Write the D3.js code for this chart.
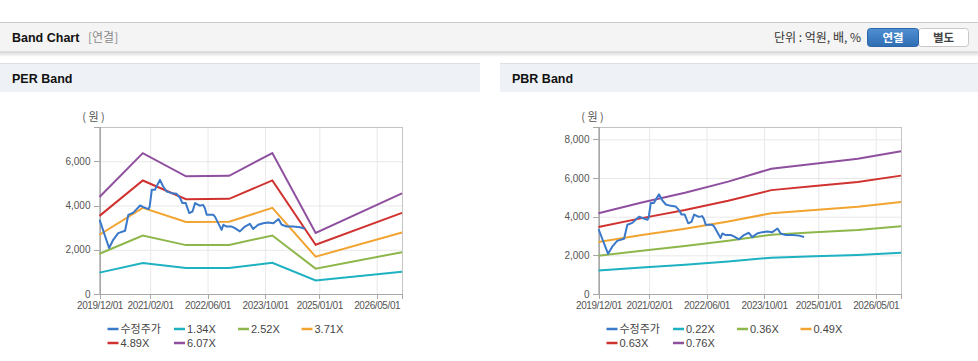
<!DOCTYPE html>
<html>
<head>
<meta charset="utf-8">
<script src="https://cdn.jsdelivr.net/npm/d3@7"></script>
<style>
  body { margin: 0; background: #fff; }
  svg { display: block; font-family: "Liberation Sans", Arial, sans-serif; }
  .kr { font-family: "Noto Sans CJK KR", sans-serif; }
  .axis path, .axis line { shape-rendering: crispEdges; }
</style>
</head>
<body>
<div id="page"></div>
<script>
// --- data ---
var xTickDates = ["2019-12-01", "2021-02-01", "2022-06-01", "2023-10-01", "2025-01-01", "2026-05-01"];

var priceDates = ["2019-12-02", "2020-02-20", "2020-03-26", "2020-05-07", "2020-07-04", "2020-08-01",
  "2020-09-12", "2020-10-10", "2020-11-08", "2020-12-06", "2021-01-18", "2021-01-28", "2021-02-15",
  "2021-03-13", "2021-04-25", "2021-05-22", "2021-06-22", "2021-08-03", "2021-09-13", "2021-10-13",
  "2021-11-01", "2021-11-29", "2021-12-28", "2022-01-25", "2022-02-16", "2022-03-28", "2022-04-25",
  "2022-05-10", "2022-05-25", "2022-07-19", "2022-08-03", "2022-09-28", "2022-10-13", "2022-11-10",
  "2022-12-22", "2023-01-19", "2023-03-02", "2023-04-13", "2023-05-25", "2023-06-22", "2023-08-03",
  "2023-09-15", "2023-10-28", "2023-12-10", "2024-01-22", "2024-02-18", "2024-04-01", "2024-05-25",
  "2024-07-22", "2024-09-03"];
var priceValues = [3350, 2080, 2450, 2750, 2860, 3580,
  3680, 3840, 4000, 3930, 3840, 3950, 4710,
  4710, 5160, 4860, 4630, 4560, 4530, 4330,
  4110, 4110, 3660, 3730, 4110, 3990, 4030,
  3880, 3580, 3580, 3500, 2900, 3130, 3050,
  3050, 2980, 2830, 3050, 3170, 2940, 3130,
  3200, 3230, 3200, 3390, 3130, 3050, 3050,
  3020, 2950];

var perDates = ["2019-12-01", "2020-12-01", "2021-12-01", "2022-12-01", "2023-12-01", "2024-12-01", "2026-12-01"];
var perNames = ["1.34X", "2.52X", "3.71X", "4.89X", "6.07X"];
var per134 = [967, 1406, 1175, 1179, 1407, 610, 1005];
var per252 = [1819, 2643, 2210, 2218, 2646, 1147, 1890];
var per371 = [2679, 3892, 3254, 3265, 3896, 1688, 2783];
var per489 = [3531, 5130, 4289, 4303, 5135, 2225, 3668];
var per607 = [4383, 6367, 5323, 5342, 6374, 2762, 4553];
var perYTicks = [0, 2000, 4000, 6000];

var pbrDates = ["2019-12-01", "2020-12-01", "2021-12-01", "2022-12-01", "2023-12-01", "2024-12-01", "2025-12-01", "2026-12-01"];
var pbrNames = ["0.22X", "0.36X", "0.49X", "0.63X", "0.76X"];
var pbr022 = [1210, 1371, 1516, 1683, 1877, 1949, 2024, 2138];
var pbr036 = [1980, 2243, 2480, 2754, 3071, 3190, 3312, 3499];
var pbr049 = [2695, 3053, 3376, 3749, 4180, 4341, 4508, 4763];
var pbr063 = [3465, 3925, 4341, 4820, 5374, 5582, 5796, 6124];
var pbr076 = [4180, 4735, 5236, 5814, 6483, 6734, 6992, 7387];
var pbrYTicks = [0, 2000, 4000, 6000, 8000];

var bandColors = ["#1db1c2", "#8db64b", "#f2a431", "#d0322f", "#8f4f9f"];
var priceColor = "#3a78c9";

var parse = d3.timeParse("%Y-%m-%d");

var svg = d3.select("#page").append("svg")
    .attr("width", 978)
    .attr("height", 361);

var defs = svg.append("defs");
var g1 = defs.append("linearGradient").attr("id", "btnBlue").attr("x1", 0).attr("y1", 0).attr("x2", 0).attr("y2", 1);
g1.append("stop").attr("offset", "0%").attr("stop-color", "#4f8fd3");
g1.append("stop").attr("offset", "100%").attr("stop-color", "#2f6db3");
var sh = defs.append("linearGradient").attr("id", "shadow").attr("x1", 0).attr("y1", 0).attr("x2", 0).attr("y2", 1);
sh.append("stop").attr("offset", "0%").attr("stop-color", "#d8d8d8");
sh.append("stop").attr("offset", "100%").attr("stop-color", "#ffffff");

// top header bar
svg.append("rect").attr("x", 0).attr("y", 52).attr("width", 978).attr("height", 5).attr("fill", "url(#shadow)");
svg.append("rect").attr("x", 0).attr("y", 22).attr("width", 978).attr("height", 30).attr("fill", "#f4f4f4");
svg.append("line").attr("x1", 0).attr("x2", 978).attr("y1", 22.5).attr("y2", 22.5).attr("stroke", "#c8c8c8");
svg.append("line").attr("x1", 0).attr("x2", 978).attr("y1", 51.5).attr("y2", 51.5).attr("stroke", "#dedede");

svg.append("text").attr("x", 12).attr("y", 42).attr("font-size", 12.5).attr("font-weight", "bold")
    .attr("fill", "#111").text("Band Chart");
svg.append("text").attr("class", "kr").attr("x", 88).attr("y", 42).attr("font-size", 12).attr("fill", "#8a8a8a")
    .text("[연결]");
svg.append("text").attr("class", "kr").attr("x", 861).attr("y", 42).attr("font-size", 12).attr("fill", "#333")
    .attr("text-anchor", "end").text("단위 : 억원, 배, %");

svg.append("rect").attr("x", 918.5).attr("y", 28.5).attr("width", 50).attr("height", 18).attr("rx", 3)
    .attr("fill", "#fff").attr("stroke", "#c8c8c8");
svg.append("rect").attr("x", 867.5).attr("y", 28.5).attr("width", 51).attr("height", 18).attr("rx", 3)
    .attr("fill", "url(#btnBlue)").attr("stroke", "#2c66a8");
svg.append("text").attr("class", "kr").attr("x", 893).attr("y", 42).attr("font-size", 11.5).attr("font-weight", "bold")
    .attr("fill", "#fff").attr("text-anchor", "middle").text("연결");
svg.append("text").attr("class", "kr").attr("x", 943.5).attr("y", 42).attr("font-size", 11.5).attr("font-weight", "bold")
    .attr("fill", "#444").attr("text-anchor", "middle").text("별도");

// section headers
function sectionHeader(x, w, label) {
    svg.append("rect").attr("x", x).attr("y", 63).attr("width", w).attr("height", 29).attr("fill", "#eef1f6");
    svg.append("line").attr("x1", x).attr("x2", x + w).attr("y1", 63.5).attr("y2", 63.5).attr("stroke", "#dcdfe4");
    svg.append("text").attr("x", x + 12).attr("y", 83).attr("font-size", 12.5).attr("font-weight", "bold")
        .attr("fill", "#111").text(label);
}
sectionHeader(0, 480, "PER Band");
sectionHeader(500, 478, "PBR Band");

function drawBand(cfg) {
    var x = d3.scaleTime()
        .domain([parse("2019-12-01"), parse("2026-12-01")])
        .range([cfg.left, cfg.right]);
    var y = d3.scaleLinear()
        .domain([0, cfg.yMax])
        .range([cfg.bottom, cfg.top]);
    var w = cfg.right - cfg.left;
    var h = cfg.bottom - cfg.top;
    var g = svg.append("g");

    // grid
    g.append("g").attr("transform", "translate(0," + cfg.top + ")")
        .call(d3.axisBottom(x).tickValues(xTickDates.map(parse)).tickSize(h).tickFormat(""))
        .call(function(s) { s.select(".domain").remove(); })
        .selectAll("line").attr("stroke", "#e8e8e8");
    g.append("g").attr("transform", "translate(" + cfg.left + ",0)")
        .call(d3.axisRight(y).tickValues(cfg.yTicks).tickSize(w).tickFormat(""))
        .call(function(s) { s.select(".domain").remove(); })
        .selectAll("line").attr("stroke", "#e8e8e8");

    // frame
    g.append("rect").attr("x", cfg.left).attr("y", cfg.top + 0.5).attr("width", w).attr("height", h - 0.5)
        .attr("fill", "none").attr("stroke", "#c4c4c4").attr("shape-rendering", "crispEdges");

    // axes
    var ya = g.append("g").attr("class", "axis").attr("transform", "translate(" + cfg.left + ",0)")
        .call(d3.axisLeft(y).tickValues(cfg.yTicks).tickSize(6).tickPadding(3).tickFormat(d3.format(",")));
    var xa = g.append("g").attr("class", "axis").attr("transform", "translate(0," + cfg.bottom + ")")
        .call(d3.axisBottom(x).tickValues(xTickDates.map(parse)).tickSize(5).tickPadding(3)
            .tickFormat(d3.timeFormat("%Y/%m/%d")));
    [ya, xa].forEach(function(a) {
        a.select(".domain").attr("stroke", "#a8a8a8");
        a.selectAll(".tick line").attr("stroke", "#a8a8a8");
        a.selectAll("text").attr("fill", "#555").attr("font-size", 10).attr("font-family", "Liberation Sans, Arial, sans-serif");
    });
    xa.selectAll("text").attr("letter-spacing", "-0.4px");

    g.append("text").attr("class", "kr").attr("x", cfg.left - 6).attr("y", 121).attr("font-size", 11)
        .attr("fill", "#555").attr("text-anchor", "middle").text("( 원 )");

    var line = d3.line()
        .x(function(d) { return x(d[0]); })
        .y(function(d) { return y(d[1]); });

    var bandDates = cfg.bandDates.map(parse);
    cfg.bands.forEach(function(vals, i) {
        g.append("path")
            .datum(bandDates.map(function(d, j) { return [d, vals[j]]; }))
            .attr("d", line)
            .attr("fill", "none")
            .attr("stroke", bandColors[i])
            .attr("stroke-width", 2);
    });
    g.append("path")
        .datum(priceDates.map(function(d, j) { return [parse(d), priceValues[j]]; }))
        .attr("d", line)
        .attr("fill", "none")
        .attr("stroke", priceColor)
        .attr("stroke-width", 2)
        .attr("stroke-linejoin", "round");

    // legend
    var items = [{ name: "수정주가", color: priceColor }].concat(cfg.names.map(function(n, i) {
        return { name: n, color: bandColors[i] };
    }));
    var cols = [8, 74.5, 138.5, 202];
    items.forEach(function(it, i) {
        var lx = cfg.left + cols[i % 4];
        var ly = i < 4 ? 329 : 343;
        g.append("line").attr("x1", lx).attr("x2", lx + 11).attr("y1", ly).attr("y2", ly)
            .attr("stroke", it.color).attr("stroke-width", 2.5);
        g.append("text").attr("class", i === 0 ? "kr" : null)
            .attr("x", lx + 13).attr("y", ly + 4)
            .attr("font-size", 11)
            .attr("fill", "#444")
            .text(it.name);
    });
}

drawBand({
    left: 99.5, right: 402, top: 127, bottom: 294, yMax: 7550,
    yTicks: perYTicks, bandDates: perDates, names: perNames,
    bands: [per134, per252, per371, per489, per607]
});
drawBand({
    left: 598.5, right: 901, top: 127, bottom: 294, yMax: 8640,
    yTicks: pbrYTicks, bandDates: pbrDates, names: pbrNames,
    bands: [pbr022, pbr036, pbr049, pbr063, pbr076]
});
</script>
</body>
</html>
